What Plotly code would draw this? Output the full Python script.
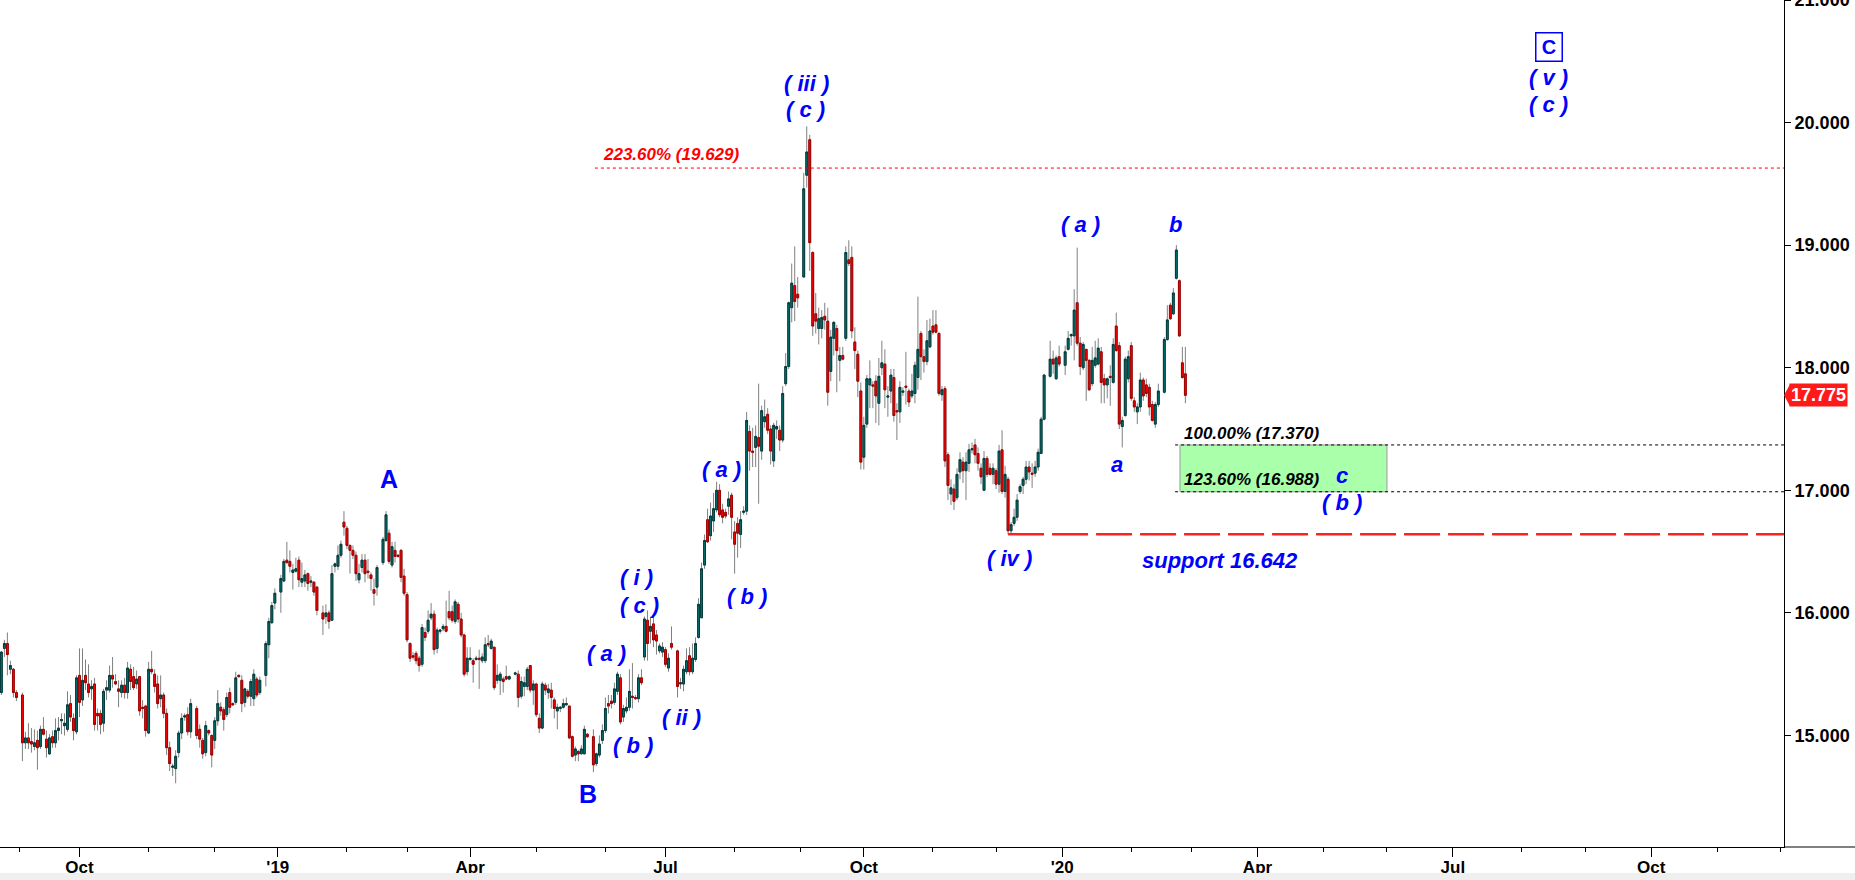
import pandas as pd
import plotly.graph_objects as go

# ---------------- data (daily candles) ----------------
open_ = [
    15.35, 15.71, 15.75, 15.54, 15.54, 15.35, 15.33, 14.94, 14.98, 14.95,
    14.91, 14.96, 14.91, 15.05, 14.97, 14.85, 14.99, 14.94, 15.04, 15.12,
    15.08, 15.05, 15.26, 15.14, 15.03, 15.49, 15.29, 15.49, 15.42, 15.38,
    15.42, 15.18, 15.18, 15.10, 15.37, 15.37, 15.49, 15.44, 15.38, 15.35,
    15.41, 15.35, 15.54, 15.48, 15.42, 15.48, 15.23, 15.24, 15.02, 15.54,
    15.50, 15.42, 15.30, 15.33, 15.18, 14.90, 14.74, 14.73, 14.86, 15.02,
    15.15, 15.17, 15.03, 15.22, 15.05, 14.96, 14.86, 15.04, 15.00, 14.96,
    15.12, 15.23, 15.21, 15.17, 15.35, 15.26, 15.27, 15.49, 15.45, 15.27,
    15.36, 15.32, 15.30, 15.46, 15.35, 15.49, 15.74, 15.92, 16.08, 16.17,
    16.26, 16.43, 16.42, 16.33, 16.34, 16.43, 16.25, 16.26, 16.32, 16.25,
    16.25, 16.21, 16.00, 15.97, 16.00, 15.94, 16.38, 16.38, 16.47, 16.74,
    16.69, 16.55, 16.51, 16.47, 16.27, 16.37, 16.43, 16.34, 16.31, 16.19,
    16.21, 16.41, 16.59, 16.65, 16.39, 16.51, 16.47, 16.51, 16.30, 16.15,
    15.75, 15.65, 15.67, 15.63, 15.58, 15.84, 15.85, 15.96, 15.99, 15.71,
    15.85, 15.87, 15.89, 16.01, 16.01, 15.93, 16.07, 15.95, 15.82, 15.52,
    15.62, 15.61, 15.62, 15.63, 15.61, 15.61, 15.75, 15.71, 15.72, 15.45,
    15.45, 15.46, 15.48, 15.46, 15.50, 15.50, 15.32, 15.40, 15.40, 15.57,
    15.37, 15.42, 15.14, 15.06, 15.41, 15.35, 15.37, 15.29, 15.20, 15.22,
    15.23, 15.25, 15.24, 14.99, 14.84, 14.87, 14.85, 14.85, 15.01, 14.99,
    14.77, 14.84, 14.96, 15.04, 15.26, 15.28, 15.27, 15.36, 15.47, 15.15,
    15.20, 15.23, 15.32, 15.31, 15.30, 15.47, 15.64, 15.94, 15.85, 15.91,
    15.82, 15.69, 15.68, 15.70, 15.55, 15.75, 15.69, 15.42, 15.42, 15.52,
    15.65, 15.52, 15.62, 15.80, 15.96, 16.39, 16.76, 16.63, 16.75, 16.84,
    17.00, 16.84, 16.82, 16.87, 16.96, 16.66, 16.73, 16.64, 16.82, 16.83,
    17.48, 17.32, 17.35, 17.43, 17.32, 17.56, 17.62, 17.50, 17.24, 17.50,
    17.49, 17.41, 17.87, 18.01, 18.49, 18.67, 18.60, 18.74, 19.57, 19.86,
    18.94, 18.44, 18.32, 18.32, 18.42, 18.38, 17.97, 18.24, 18.32, 18.06,
    18.10, 18.24, 18.88, 18.90, 18.21, 18.11, 17.81, 17.27, 17.54, 17.86,
    17.86, 17.89, 17.71, 18.00, 18.03, 17.76, 17.81, 17.92, 17.65, 17.64,
    17.80, 17.85, 17.81, 17.77, 17.79, 17.92, 18.28, 18.09, 18.05, 18.17,
    18.34, 18.35, 18.28, 17.78, 17.83, 17.29, 16.97, 17.01, 16.94, 17.15,
    17.23, 17.16, 17.22, 17.33, 17.37, 17.30, 17.18, 17.00, 17.26, 17.18,
    17.13, 17.16, 17.05, 17.33, 16.99, 17.09, 16.67, 16.73, 16.78, 16.99,
    17.04, 17.09, 17.19, 17.14, 17.14, 17.19, 17.30, 17.58, 17.93, 18.07,
    17.91, 18.09, 18.02, 18.15, 18.26, 18.26, 18.53, 18.20, 18.00, 18.15,
    18.06, 17.87, 18.02, 18.03, 18.13, 17.91, 17.86, 17.93, 17.88, 18.34,
    18.18, 17.52, 17.61, 17.91, 18.18, 17.73, 17.64, 17.68, 17.90, 17.86,
    17.84, 17.70, 17.54, 17.70, 17.80, 18.23, 18.51, 18.44, 18.73, 18.71,
    18.04, 17.95,
]
high = [
    15.69, 15.78, 15.84, 15.61, 15.55, 15.37, 15.35, 15.03, 15.10, 15.06,
    15.05, 15.04, 15.08, 15.15, 15.04, 15.01, 15.04, 15.14, 15.15, 15.18,
    15.18, 15.36, 15.33, 15.18, 15.49, 15.71, 15.71, 15.62, 15.58, 15.45,
    15.47, 15.22, 15.21, 15.38, 15.45, 15.57, 15.64, 15.50, 15.45, 15.45,
    15.47, 15.60, 15.58, 15.56, 15.53, 15.48, 15.29, 15.25, 15.60, 15.69,
    15.54, 15.49, 15.49, 15.35, 15.22, 14.95, 14.77, 14.88, 15.04, 15.18,
    15.18, 15.23, 15.30, 15.24, 15.09, 14.98, 15.12, 15.05, 15.01, 15.15,
    15.37, 15.27, 15.23, 15.35, 15.39, 15.27, 15.52, 15.50, 15.49, 15.39,
    15.38, 15.46, 15.54, 15.48, 15.48, 15.77, 15.96, 16.09, 16.20, 16.31,
    16.44, 16.58, 16.51, 16.40, 16.45, 16.46, 16.41, 16.35, 16.33, 16.30,
    16.26, 16.22, 16.06, 16.07, 16.02, 16.39, 16.41, 16.55, 16.59, 16.83,
    16.71, 16.56, 16.55, 16.50, 16.40, 16.48, 16.48, 16.44, 16.33, 16.28,
    16.39, 16.62, 16.83, 16.68, 16.58, 16.58, 16.48, 16.52, 16.36, 16.17,
    15.76, 15.68, 15.69, 15.65, 15.91, 15.88, 16.02, 16.08, 16.02, 15.88,
    15.87, 15.91, 16.10, 16.18, 16.06, 16.11, 16.09, 16.00, 15.83, 15.72,
    15.72, 15.63, 15.65, 15.70, 15.67, 15.80, 15.82, 15.79, 15.72, 15.58,
    15.52, 15.48, 15.57, 15.49, 15.52, 15.53, 15.48, 15.48, 15.56, 15.57,
    15.45, 15.43, 15.18, 15.44, 15.43, 15.42, 15.43, 15.31, 15.26, 15.24,
    15.30, 15.31, 15.24, 15.00, 14.91, 14.88, 14.92, 15.08, 15.02, 15.05,
    14.86, 15.00, 15.09, 15.31, 15.33, 15.33, 15.43, 15.52, 15.50, 15.25,
    15.31, 15.54, 15.59, 15.33, 15.50, 15.54, 15.97, 16.02, 15.97, 15.97,
    15.86, 15.75, 15.76, 15.72, 15.67, 15.89, 15.70, 15.47, 15.57, 15.71,
    15.72, 15.75, 15.80, 16.12, 16.41, 16.64, 16.85, 16.90, 16.98, 17.07,
    17.05, 16.89, 16.85, 16.99, 16.98, 16.75, 16.78, 16.83, 16.87, 17.64,
    17.53, 17.51, 17.53, 17.87, 17.69, 17.74, 17.67, 17.53, 17.55, 17.57,
    17.53, 17.85, 18.12, 18.54, 18.85, 18.99, 18.74, 19.59, 19.97, 19.90,
    18.95, 18.61, 18.49, 18.47, 18.53, 18.49, 18.31, 18.38, 18.35, 18.17,
    18.17, 18.99, 19.04, 18.99, 18.33, 18.14, 17.88, 17.60, 17.94, 18.06,
    17.89, 17.94, 18.08, 18.22, 18.15, 17.85, 17.99, 17.99, 17.71, 17.89,
    17.84, 18.13, 17.83, 17.95, 18.05, 18.58, 18.30, 18.15, 18.39, 18.40,
    18.47, 18.47, 18.29, 17.85, 17.85, 17.31, 17.09, 17.05, 17.18, 17.31,
    17.27, 17.31, 17.38, 17.39, 17.42, 17.35, 17.22, 17.32, 17.28, 17.22,
    17.22, 17.18, 17.37, 17.49, 17.20, 17.11, 16.74, 16.85, 16.97, 17.05,
    17.11, 17.24, 17.24, 17.22, 17.24, 17.34, 17.60, 17.95, 18.22, 18.14,
    18.10, 18.18, 18.18, 18.30, 18.28, 18.64, 18.98, 18.25, 18.21, 18.15,
    18.07, 18.17, 18.22, 18.24, 18.17, 17.95, 17.92, 18.02, 18.24, 18.45,
    18.21, 17.60, 18.09, 18.14, 18.21, 17.76, 17.71, 17.96, 17.92, 17.91,
    17.87, 17.73, 17.72, 17.87, 18.25, 18.51, 18.53, 18.65, 19.00, 18.72,
    18.17, 18.17,
]
low = [
    15.33, 15.64, 15.49, 15.50, 15.31, 15.28, 14.79, 14.89, 14.89, 14.86,
    14.88, 14.72, 14.89, 15.00, 14.82, 14.84, 14.90, 14.90, 14.96, 15.01,
    15.00, 15.03, 15.11, 14.96, 15.01, 15.15, 15.24, 15.37, 15.31, 15.29,
    15.04, 15.04, 15.01, 15.03, 15.29, 15.35, 15.39, 15.41, 15.23, 15.31,
    15.30, 15.30, 15.37, 15.37, 15.38, 15.16, 15.14, 14.99, 15.01, 15.50,
    15.35, 15.22, 15.23, 15.14, 14.84, 14.71, 14.67, 14.61, 14.82, 14.97,
    15.12, 15.00, 14.98, 14.97, 14.90, 14.81, 14.83, 15.00, 14.74, 14.89,
    15.08, 15.16, 15.04, 15.15, 15.18, 15.24, 15.25, 15.47, 15.19, 15.23,
    15.30, 15.24, 15.24, 15.31, 15.33, 15.40, 15.63, 15.91, 16.03, 16.00,
    16.25, 16.40, 16.33, 16.19, 16.33, 16.21, 16.21, 16.21, 16.18, 16.21,
    16.14, 15.98, 15.82, 15.91, 15.87, 15.94, 16.33, 16.35, 16.45, 16.63,
    16.52, 16.32, 16.44, 16.26, 16.24, 16.33, 16.25, 16.28, 16.18, 16.06,
    16.14, 16.39, 16.58, 16.40, 16.37, 16.41, 16.45, 16.25, 16.14, 15.76,
    15.60, 15.62, 15.58, 15.52, 15.56, 15.77, 15.83, 15.94, 15.66, 15.67,
    15.83, 15.85, 15.84, 15.94, 15.92, 15.91, 15.92, 15.80, 15.48, 15.49,
    15.61, 15.43, 15.61, 15.38, 15.59, 15.59, 15.72, 15.70, 15.37, 15.42,
    15.33, 15.35, 15.45, 15.45, 15.49, 15.23, 15.30, 15.32, 15.37, 15.35,
    15.25, 15.15, 15.02, 15.05, 15.33, 15.30, 15.22, 15.14, 15.05, 15.19,
    15.22, 15.24, 14.97, 14.82, 14.79, 14.79, 14.85, 14.85, 14.98, 14.70,
    14.75, 14.82, 14.93, 15.02, 15.18, 15.22, 15.25, 15.33, 15.09, 15.11,
    15.18, 15.20, 15.22, 15.29, 15.27, 15.41, 15.61, 15.61, 15.75, 15.72,
    15.66, 15.67, 15.64, 15.56, 15.52, 15.70, 15.31, 15.38, 15.36, 15.50,
    15.49, 15.50, 15.60, 15.79, 15.96, 16.36, 16.57, 16.59, 16.66, 16.82,
    16.78, 16.73, 16.77, 16.80, 16.60, 16.32, 16.45, 16.53, 16.80, 16.80,
    17.16, 17.19, 17.19, 16.89, 17.25, 17.51, 17.46, 17.21, 17.19, 17.42,
    17.32, 17.39, 17.85, 17.99, 18.37, 18.38, 18.49, 18.74, 19.47, 18.79,
    18.26, 18.28, 18.19, 18.24, 18.31, 17.69, 17.89, 18.10, 17.80, 17.89,
    18.06, 18.22, 18.83, 18.24, 17.99, 17.76, 17.17, 17.17, 17.51, 17.67,
    17.67, 17.55, 17.53, 17.94, 17.67, 17.60, 17.71, 17.56, 17.41, 17.55,
    17.77, 17.70, 17.68, 17.75, 17.71, 17.82, 17.90, 17.96, 18.02, 18.16,
    18.27, 18.28, 17.77, 17.73, 17.19, 16.92, 16.88, 16.84, 16.92, 17.09,
    17.06, 16.92, 17.15, 17.30, 17.22, 17.16, 17.05, 17.00, 17.11, 17.12,
    17.05, 17.01, 16.98, 16.97, 16.94, 16.64, 16.65, 16.71, 16.75, 16.97,
    16.97, 17.05, 17.08, 17.02, 17.11, 17.16, 17.30, 17.57, 17.92, 17.95,
    17.90, 18.01, 17.94, 18.14, 18.18, 18.06, 18.18, 17.94, 17.98, 17.73,
    17.81, 17.85, 18.00, 18.02, 17.71, 17.71, 17.75, 17.69, 17.87, 18.13,
    17.50, 17.35, 17.60, 17.88, 17.73, 17.64, 17.54, 17.64, 17.73, 17.76,
    17.61, 17.56, 17.51, 17.68, 17.79, 18.22, 18.39, 18.43, 18.72, 18.25,
    17.91, 17.71,
]
close = [
    15.68, 15.75, 15.66, 15.57, 15.35, 15.31, 14.94, 14.98, 14.94, 14.93,
    14.94, 14.90, 15.05, 15.01, 14.90, 14.98, 14.94, 15.04, 15.06, 15.13,
    15.10, 15.25, 15.15, 15.04, 15.47, 15.27, 15.45, 15.43, 15.35, 15.40,
    15.09, 15.16, 15.09, 15.36, 15.39, 15.49, 15.46, 15.42, 15.36, 15.41,
    15.35, 15.55, 15.44, 15.39, 15.46, 15.20, 15.22, 15.04, 15.54, 15.52,
    15.40, 15.26, 15.33, 15.18, 14.90, 14.77, 14.75, 14.83, 15.02, 15.14,
    15.16, 15.03, 15.26, 15.00, 14.97, 14.85, 15.08, 15.02, 14.84, 15.12,
    15.26, 15.20, 15.13, 15.31, 15.23, 15.25, 15.47, 15.48, 15.26, 15.38,
    15.32, 15.44, 15.50, 15.33, 15.45, 15.75, 15.93, 16.06, 16.16, 16.28,
    16.42, 16.41, 16.38, 16.35, 16.36, 16.27, 16.28, 16.31, 16.24, 16.26,
    16.17, 16.02, 15.95, 16.00, 15.93, 16.32, 16.40, 16.47, 16.56, 16.70,
    16.55, 16.51, 16.47, 16.32, 16.32, 16.43, 16.32, 16.33, 16.28, 16.16,
    16.37, 16.60, 16.80, 16.42, 16.54, 16.46, 16.46, 16.29, 16.16, 15.78,
    15.63, 15.64, 15.61, 15.57, 15.88, 15.80, 15.94, 15.99, 15.70, 15.86,
    15.86, 15.89, 15.85, 15.96, 15.94, 16.09, 15.95, 15.82, 15.50, 15.63,
    15.63, 15.58, 15.63, 15.62, 15.64, 15.74, 15.74, 15.77, 15.39, 15.49,
    15.50, 15.44, 15.46, 15.48, 15.51, 15.31, 15.44, 15.43, 15.54, 15.37,
    15.42, 15.17, 15.06, 15.42, 15.37, 15.38, 15.31, 15.22, 15.23, 15.23,
    15.26, 15.26, 14.98, 14.83, 14.89, 14.85, 14.89, 15.05, 14.99, 14.76,
    14.85, 14.93, 15.04, 15.22, 15.24, 15.26, 15.38, 15.50, 15.11, 15.22,
    15.23, 15.36, 15.31, 15.30, 15.47, 15.43, 15.95, 15.75, 15.89, 15.78,
    15.77, 15.73, 15.72, 15.58, 15.63, 15.72, 15.40, 15.43, 15.54, 15.61,
    15.52, 15.63, 15.75, 16.07, 16.36, 16.59, 16.58, 16.79, 16.85, 17.00,
    16.80, 16.78, 16.79, 16.93, 16.78, 16.56, 16.65, 16.76, 16.83, 17.57,
    17.32, 17.31, 17.44, 17.36, 17.65, 17.60, 17.49, 17.32, 17.53, 17.52,
    17.41, 17.79, 18.01, 18.53, 18.69, 18.54, 18.57, 19.46, 19.76, 19.02,
    18.34, 18.38, 18.40, 18.41, 18.39, 17.80, 18.25, 18.37, 18.14, 18.10,
    18.07, 18.94, 18.85, 18.30, 18.14, 17.89, 17.23, 17.53, 17.91, 17.91,
    17.85, 17.77, 17.93, 18.04, 17.82, 17.77, 17.94, 17.61, 17.64, 17.84,
    17.81, 17.84, 17.72, 17.81, 18.02, 18.15, 18.09, 18.05, 18.22, 18.30,
    18.29, 18.29, 17.79, 17.82, 17.24, 17.04, 17.02, 16.91, 17.13, 17.25,
    17.16, 17.23, 17.33, 17.34, 17.29, 17.22, 17.11, 17.26, 17.13, 17.13,
    17.18, 17.05, 17.32, 16.99, 17.13, 16.67, 16.72, 16.78, 16.92, 17.03,
    17.09, 17.19, 17.15, 17.13, 17.19, 17.31, 17.58, 17.94, 18.07, 18.03,
    18.08, 18.03, 18.13, 18.24, 18.27, 18.47, 18.20, 18.01, 18.19, 18.06,
    17.82, 18.06, 18.08, 18.16, 17.88, 17.86, 17.91, 17.92, 18.19, 18.14,
    17.54, 17.57, 18.07, 18.09, 17.75, 17.68, 17.68, 17.90, 17.77, 17.79,
    17.68, 17.57, 17.70, 17.81, 18.23, 18.39, 18.40, 18.61, 18.96, 18.26,
    17.92, 17.775,
]

first_day = "2018-08-24"
last_day = "2020-02-27"
market_holidays = [
    "2018-09-03", "2018-11-22", "2018-12-25", "2019-01-01", "2019-01-21",
    "2019-02-18", "2019-04-19", "2019-05-27", "2019-07-04", "2019-09-02",
    "2019-12-25", "2020-01-01", "2020-02-17",
]

tick_dates = ["2018-10-01", "2019-01-01", "2019-04-01", "2019-07-01", "2019-10-01",
              "2020-01-01", "2020-04-01", "2020-07-01", "2020-10-01"]
tick_text = ["Oct", "'19", "Apr", "Jul", "Oct", "'20", "Apr", "Jul", "Oct"]

fib_levels = [19.629, 17.370, 16.988]
fib_texts = ["223.60% (19.629)", "100.00% (17.370)", "123.60% (16.988)"]
support_level = 16.642

# wave labels: (text, x date, price)
wave_labels = [
    ("( iii )", "2019-09-04 12:00", 20.32),
    ("( c )", "2019-09-04 00:00", 20.11),
    ("( a )", "2020-01-09 12:00", 19.17),
    ("b", "2020-02-24 08:00", 19.17),
    ("a", "2020-01-27 17:00", 17.21),
    ("c", "2020-05-11 12:00", 17.12),
    ("( b )", "2020-05-11 12:00", 16.90),
    ("( iv )", "2019-12-09 02:00", 16.44),
    ("support 16.642", "2020-03-16 00:00", 16.43),
    ("( a )", "2019-07-26 07:00", 17.17),
    ("( b )", "2019-08-07 14:00", 16.13),
    ("( i )", "2019-06-17 17:00", 16.29),
    ("( c )", "2019-06-18 17:00", 16.06),
    ("( a )", "2019-06-04 00:00", 15.67),
    ("( b )", "2019-06-14 17:00", 14.92),
    ("( ii )", "2019-07-08 17:00", 15.15),
    ("( v )", "2020-08-14 12:00", 20.37),
    ("( c )", "2020-08-14 12:00", 20.15),
]
big_labels = [("A", "2019-02-21 12:00", 17.09), ("B", "2019-05-24 17:00", 14.52)]
boxed_label = ("C", "2020-08-14 12:00", 20.62)

x_range = ["2018-08-24 01:00", "2020-12-02 17:00"]
y_range = [14.09, 21.0]

# ---------------- build ----------------
bd = pd.bdate_range(first_day, last_day)
bd = bd[~bd.isin(pd.to_datetime(market_holidays))]
n = min(len(bd), len(open_), len(high), len(low), len(close))
x = (bd[:n] + pd.Timedelta(hours=12))
o, h, l, c = open_[:n], high[:n], low[:n], close[:n]
body_hi = [max(a, b) for a, b in zip(o, c)]
body_lo = [min(a, b) for a, b in zip(o, c)]

FONT = "Liberation Sans, Arial, sans-serif"
BLUE = "#0000ff"

fig = go.Figure()
# wicks
fig.add_trace(go.Candlestick(
    x=x, open=o, high=h, low=l, close=c,
    increasing=dict(line=dict(color="#808080", width=1), fillcolor="#808080"),
    decreasing=dict(line=dict(color="#808080", width=1), fillcolor="#808080"),
    whiskerwidth=0, hoverinfo="skip", showlegend=False))
# bodies
fig.add_trace(go.Candlestick(
    x=x, open=o, high=body_hi, low=body_lo, close=c,
    increasing=dict(line=dict(color="#003c3c", width=1), fillcolor="#007373"),
    decreasing=dict(line=dict(color="#a30000", width=1), fillcolor="#ff0000"),
    whiskerwidth=0, showlegend=False))

shapes = []
shapes.append(dict(type="rect", xref="x", yref="y", x0="2020-02-25 17:00", x1="2020-06-01 14:00",
                   y0=fib_levels[2], y1=fib_levels[1], fillcolor="#aaffaa",
                   line=dict(color="#9a9a9a", width=1), layer="below"))
shapes.append(dict(type="line", xref="x", yref="y", x0="2019-05-29 00:00", x1=x_range[1],
                   y0=fib_levels[0], y1=fib_levels[0], line=dict(color="#ff0000", width=1, dash="3px,3px")))
for lv in fib_levels[1:]:
    shapes.append(dict(type="line", xref="x", yref="y", x0="2020-02-24 02:00", x1=x_range[1],
                       y0=lv, y1=lv, line=dict(color="#000000", width=1, dash="3px,3px")))
shapes.append(dict(type="line", xref="x", yref="y", x0="2019-12-06 12:00", x1=x_range[1],
                   y0=support_level, y1=support_level,
                   line=dict(color="#ff2020", width=2.5, dash="36px,8px")))
shapes.append(dict(type="line", xref="paper", yref="paper", x0=1, x1=1855 / 1784, y0=0, y1=0,
                   line=dict(color="black", width=1)))
shapes.append(dict(type="rect", xref="paper", yref="paper", x0=0, x1=1855 / 1784,
                   y0=-26 / 847, y1=-33 / 847, fillcolor="#efefef", line=dict(width=0)))
last = c[-1]
shapes.append(dict(type="path", xref="paper", yref="y", xsizemode="pixel", ysizemode="pixel",
                   xanchor=1, yanchor=last, path="M 0,0 L 6,11 L 6,-11 Z",
                   fillcolor="#ff1a1a", line=dict(width=0)))

annotations = []
for txt, xd, yv in wave_labels:
    annotations.append(dict(x=xd, y=yv, xref="x", yref="y", text=txt, showarrow=False,
                            font=dict(family=FONT, size=22, color=BLUE, weight="bold", style="italic"),
                            xanchor="center", yanchor="middle"))
for txt, xd, yv in big_labels:
    annotations.append(dict(x=xd, y=yv, xref="x", yref="y", text=txt, showarrow=False,
                            font=dict(family=FONT, size=25, color=BLUE, weight="bold"),
                            xanchor="center", yanchor="middle"))
annotations.append(dict(x=boxed_label[1], y=boxed_label[2], xref="x", yref="y", text=boxed_label[0],
                        showarrow=False, font=dict(family=FONT, size=20, color=BLUE, weight="bold"),
                        bordercolor=BLUE, borderwidth=1.5, borderpad=2, width=21, height=23,
                        bgcolor="white", xanchor="center", yanchor="middle"))
annotations.append(dict(x="2019-05-30 22:00", y=19.74, xref="x", yref="y", text=fib_texts[0],
                        showarrow=False, xanchor="left", yanchor="middle",
                        font=dict(family=FONT, size=17, color="#ff0000", weight="bold", style="italic")))
annotations.append(dict(x="2020-02-26 07:00", y=17.465, xref="x", yref="y", text=fib_texts[1],
                        showarrow=False, xanchor="left", yanchor="middle",
                        font=dict(family=FONT, size=17, color="#000000", weight="bold", style="italic")))
annotations.append(dict(x="2020-02-26 07:00", y=17.085, xref="x", yref="y", text=fib_texts[2],
                        showarrow=False, xanchor="left", yanchor="middle",
                        font=dict(family=FONT, size=17, color="#000000", weight="bold", style="italic")))
annotations.append(dict(x=1, xref="paper", y=last, yref="y", text=f"{last:.3f}", showarrow=False,
                        xanchor="left", yanchor="middle", xshift=5, bgcolor="#ff1a1a", borderpad=1,
                        font=dict(family=FONT, size=18, color="white", weight="bold")))

minor_ticks = [pd.offsets.BDay().rollforward(d) + pd.Timedelta(hours=12)
               for d in pd.date_range("2018-09-01", "2020-12-01", freq="MS")]
major_ticks = [pd.Timestamp(d) + pd.Timedelta(hours=12) for d in tick_dates]

fig.update_layout(
    width=1855, height=880,
    margin=dict(l=0, r=71, t=0, b=33, pad=0),
    plot_bgcolor="white", paper_bgcolor="white",
    showlegend=False, boxgap=0.12,
    shapes=shapes, annotations=annotations,
    xaxis=dict(
        type="date", range=x_range, rangebreaks=[dict(bounds=["sat", "mon"])],
        rangeslider=dict(visible=False), showgrid=False, zeroline=False,
        showline=True, linecolor="black", linewidth=1,
        ticks="outside", ticklen=9, tickcolor="black", tickwidth=1,
        ticklabelstandoff=-4,
        tickmode="array", tickvals=major_ticks, ticktext=tick_text,
        tickfont=dict(family=FONT, size=17, color="black", weight="bold"),
        minor=dict(tickmode="array", tickvals=minor_ticks, ticks="outside", ticklen=4,
                   tickcolor="black", showgrid=False),
        automargin=False,
    ),
    yaxis=dict(
        side="right", range=y_range, showgrid=False, zeroline=False,
        showline=True, linecolor="black", linewidth=1,
        ticks="outside", ticklen=6, tickcolor="black",
        tick0=0, dtick=1, tickformat=".3f", ticklabeloverflow="allow",
        tickfont=dict(family=FONT, size=18, color="black", weight="bold"),
        automargin=False,
    ),
)

fig.write_html(
    "out.html",
    config={"displayModeBar": False},
    post_script="document.body.style.margin='0px';document.body.style.overflow='hidden';",
)
